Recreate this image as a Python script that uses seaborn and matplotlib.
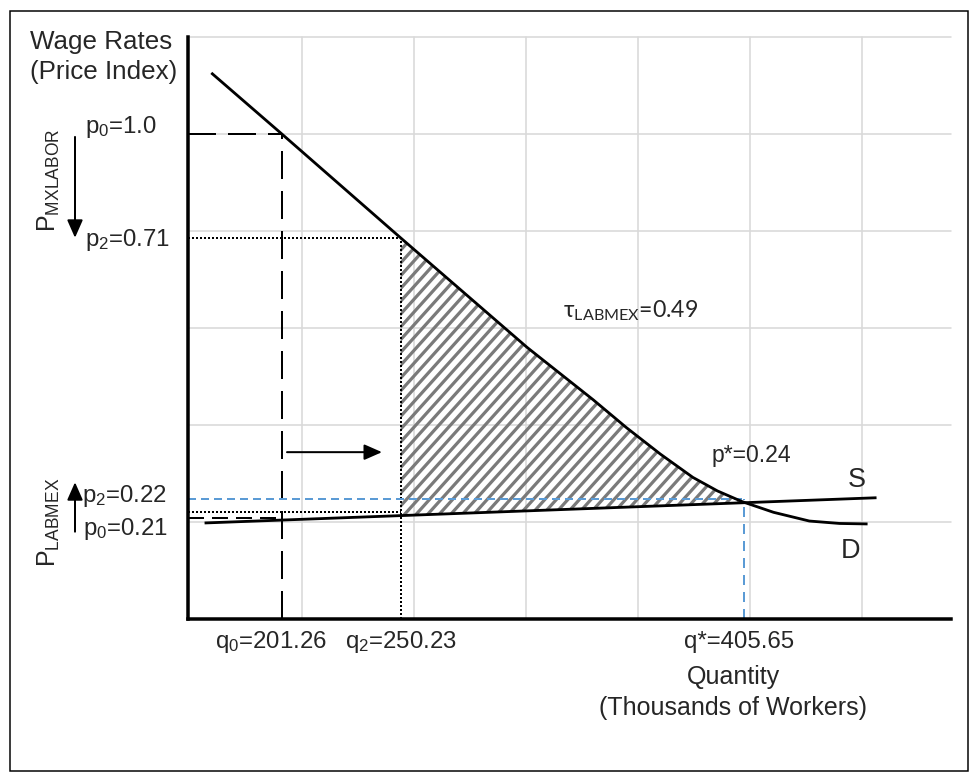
import numpy as np
import pandas as pd
import matplotlib
matplotlib.use("Agg")
import matplotlib.pyplot as plt
from matplotlib.patches import Rectangle, Polygon
from matplotlib.collections import LineCollection
import seaborn as sns

# ---------------- data (schematic grid units) ----------------
demand_q = [0.19, 0.82, 1.88, 3.01, 3.60, 3.90, 4.20, 4.49, 4.71, 4.93, 5.21, 5.53, 5.80, 6.05]
demand_p = [5.63, 5.00, 3.93, 2.80, 2.26, 1.97, 1.70, 1.46, 1.32, 1.21, 1.10, 1.01, 0.985, 0.98]
supply_q = [0.13, 6.13]
supply_p = [0.99, 1.25]

q_marks = {"q0": 0.82, "q2": 1.88, "qstar": 4.95}
p_marks = {"p0_hi": 5.00, "p2_hi": 3.93, "pstar": 1.24, "p2_lo": 1.10, "p0_lo": 1.04}

q_labels = [r"q$_0$=201.26", r"q$_2$=250.23", "q*=405.65"]
p_hi_labels = [r"p$_0$=1.0", r"p$_2$=0.71"]
p_lo_labels = [r"p$_2$=0.22", r"p$_0$=0.21"]
tax_label = r"τ$_{\mathsf{LABMEX}}$=0.49"
pstar_label = "p*=0.24"

grid_x = [1, 2, 3, 4, 5, 6]
grid_y = [1, 2, 3, 4, 5, 6]

# ---------------- style ----------------
sns.set_style("white")
plt.rcParams["font.family"] = ["Liberation Sans", "DejaVu Sans"]
plt.rcParams["mathtext.fontset"] = "custom"
plt.rcParams["mathtext.rm"] = "Liberation Sans"
plt.rcParams["mathtext.it"] = "Liberation Sans:italic"
plt.rcParams["mathtext.sf"] = "Lato"

W, H = 978, 776
fig = plt.figure(figsize=(W / 72, H / 72), dpi=72)
fig.patch.set_facecolor("white")
ax = fig.add_axes([188 / W, 1 - 619 / H, (951 - 188) / W, (619 - 37) / H])
ax.set_xlim(-0.018, 6.795)
ax.set_ylim(0, 6)

# grid
ax.set_xticks(grid_x)
ax.set_yticks(grid_y)
ax.grid(True, color="#d9d9d9", lw=1.6)
for gl in ax.get_ygridlines() + ax.get_xgridlines():
    gl.set_clip_on(False)
ax.tick_params(length=0, labelbottom=False, labelleft=False)
for s in ["top", "right"]:
    ax.spines[s].set_visible(False)
for s in ["left", "bottom"]:
    ax.spines[s].set_color("black")
    ax.spines[s].set_linewidth(3.5)
    ax.spines[s].set_zorder(6)

x0 = ax.get_xlim()[0]

# hatched tax wedge between demand and supply from q2 to equilibrium
dq = np.array(demand_q)
dp = np.array(demand_p)
q2, qs = q_marks["q2"], demand_q[9]
s_slope = (supply_p[1] - supply_p[0]) / (supply_q[1] - supply_q[0])
s_at = lambda q: supply_p[0] + s_slope * (q - supply_q[0])
mask = (dq > q2) & (dq < qs)
poly_x = [q2, q2] + list(dq[mask]) + [qs]
poly_y = [s_at(q2), np.interp(q2, dq, dp)] + list(dp[mask]) + [s_at(qs)]
wedge = Polygon(np.column_stack([poly_x, poly_y]), closed=True, facecolor="none",
                edgecolor="none", transform=ax.transData)
ax.add_patch(wedge)
# diagonal stripe texture clipped to the wedge
stripe_slope = 1.28          # data units, ~48 degrees on screen
stripe_step = 0.103          # ~11.5 px apart horizontally
offs = np.arange(q2 - 4.0, qs + 0.2, stripe_step)
segs = [[(c, 0.0), (c + 5.0 / stripe_slope, 5.0)] for c in offs]
stripes = LineCollection(segs, colors="#7a7a7a", linewidths=3.2, zorder=2)
ax.add_collection(stripes)
stripes.set_clip_path(wedge)

# reference lines
dash = (0, (14, 6))
dot = (0, (1, 1))
ax.plot([x0, q_marks["q0"]], [p_marks["p0_hi"]] * 2, color="black", lw=2, ls=dash, zorder=3)
ax.plot([q_marks["q0"]] * 2, [0, p_marks["p0_hi"]], color="black", lw=2, ls=dash, zorder=3)
ax.plot([x0, q_marks["q0"]], [p_marks["p0_lo"]] * 2, color="black", lw=2, ls=(0, (8, 4)), zorder=3)
ax.plot([x0, q2], [p_marks["p2_hi"]] * 2, color="black", lw=2, ls=dot, zorder=3)
ax.plot([q2] * 2, [0, p_marks["p2_hi"]], color="black", lw=2, ls=dot, zorder=3)
ax.plot([x0, q2], [p_marks["p2_lo"]] * 2, color="black", lw=2, ls=dot, zorder=3)
ax.plot([x0, q_marks["qstar"]], [p_marks["pstar"]] * 2, color="#5b9bd5", lw=2, ls=(0, (4, 2.5)), zorder=3)
ax.plot([q_marks["qstar"]] * 2, [0, p_marks["pstar"]], color="#5b9bd5", lw=2, ls=(0, (5, 3.5)), zorder=3)

# curves
curves = pd.DataFrame({"q": demand_q, "p": demand_p})
sns.lineplot(data=curves, x="q", y="p", sort=False, estimator=None, color="black", lw=2.8, ax=ax, zorder=4)
sup = pd.DataFrame({"q": supply_q, "p": supply_p})
sns.lineplot(data=sup, x="q", y="p", sort=False, estimator=None, color="black", lw=2.8, ax=ax, zorder=4)
for ln in ax.get_lines()[-2:]:
    ln.set_solid_joinstyle("round")
    ln.set_solid_capstyle("butt")
ax.set_xlabel("")
ax.set_ylabel("")

# arrows
ap = dict(arrowstyle="-|>,head_length=0.5,head_width=0.22", lw=2, color="black",
          mutation_scale=30, shrinkA=0, shrinkB=0)
ax.annotate("", xy=(-1.027, 3.93), xytext=(-1.027, 4.97), arrowprops=ap, annotation_clip=False)
ax.annotate("", xy=(-1.027, 1.41), xytext=(-1.027, 0.90), arrowprops=ap, annotation_clip=False)
ax.annotate("", xy=(1.714, 1.72), xytext=(0.866, 1.72), arrowprops=ap, annotation_clip=False)

# texts
fs = 25
ax.text(-1.429, 5.876, "Wage Rates", ha="left", va="baseline", fontsize=26)
ax.text(-1.429, 5.567, "(Price Index)", ha="left", va="baseline", fontsize=26)
ax.text(-0.94, 5.01, p_hi_labels[0], ha="left", va="baseline", fontsize=24)
ax.text(-0.94, 3.848, p_hi_labels[1], ha="left", va="baseline", fontsize=24)
ax.text(-1.263, 4.526, r"P$_{\mathrm{MXLABOR}}$", rotation=90, ha="center", va="center", fontsize=fs)
ax.text(-1.263, 0.995, r"P$_{\mathrm{LABMEX}}$", rotation=90, ha="center", va="center", fontsize=fs)
ax.text(-0.964, 1.206, p_lo_labels[0], ha="left", va="baseline", fontsize=24)
ax.text(-0.955, 0.866, p_lo_labels[1], ha="left", va="baseline", fontsize=24)
ax.text(3.33, 3.113, tax_label, ha="left", va="baseline", fontsize=23, family=["Lato", "DejaVu Sans"])
ax.text(4.661, 1.619, pstar_label, ha="left", va="baseline", fontsize=23)
ax.text(5.875, 1.361, "S", ha="left", va="baseline", fontsize=27)
ax.text(5.81, 0.629, "D", ha="left", va="baseline", fontsize=27)
ax.text(0.223, -0.299, q_labels[0], ha="left", va="baseline", fontsize=24)
ax.text(1.384, -0.299, q_labels[1], ha="left", va="baseline", fontsize=24)
ax.text(4.411, -0.299, q_labels[2], ha="left", va="baseline", fontsize=24)
ax.text(4.85, -0.670, "Quantity", ha="center", va="baseline", fontsize=fs)
ax.text(4.85, -0.990, "(Thousands of Workers)", ha="center", va="baseline", fontsize=fs)

# outer frame
fig.patches.append(Rectangle((10 / W, 5 / H), 958 / W, 760 / H, transform=fig.transFigure,
                             fill=False, edgecolor="black", lw=1.5))

fig.savefig("out.png", dpi=72, facecolor="white")
